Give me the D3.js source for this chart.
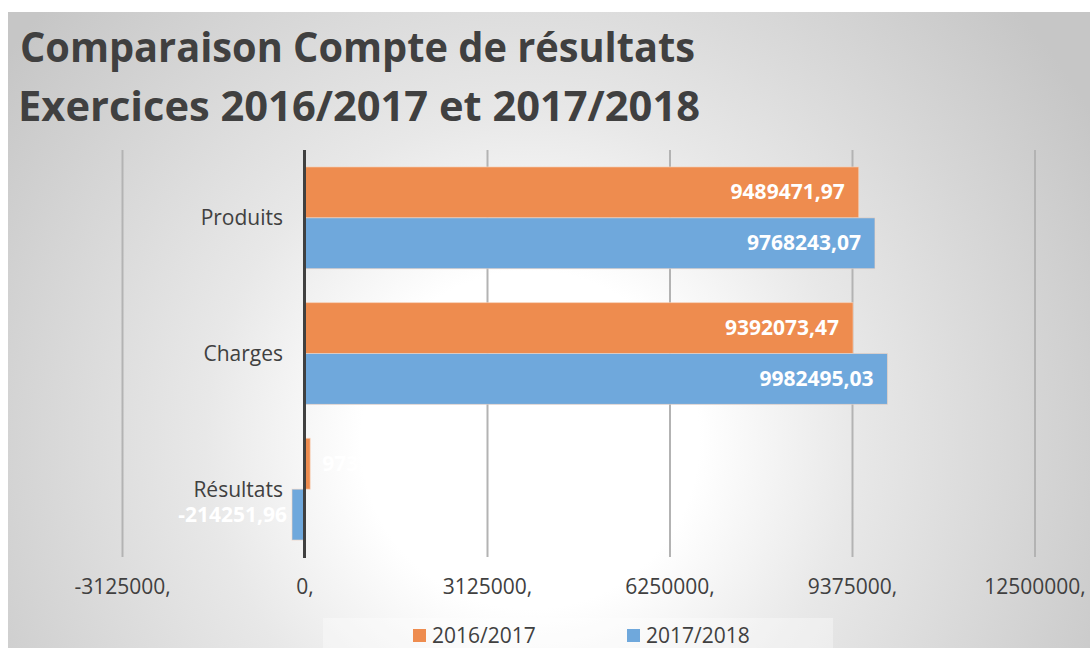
<!DOCTYPE html>
<html><head><meta charset="utf-8">
<script src="https://cdn.jsdelivr.net/npm/d3@7"></script>
<style>
body{margin:0;background:#fff;}
svg{display:block;font-family:"Open Sans",sans-serif;}
</style></head>
<body>
<svg id="c" width="1090" height="648"></svg>
<script>
const categories = ["Produits", "Charges", "Résultats"];
const seriesNames = ["2016/2017", "2017/2018"];
const values2016 = [9489471.97, 9392073.47, 97398.50];
const values2017 = [9768243.07, 9982495.03, -214251.96];
const tickValues = [-3125000, 0, 3125000, 6250000, 9375000, 12500000];
const titleLines = ["Comparaison Compte de résultats", "Exercices 2016/2017 et 2017/2018"];
const colors = ["#ee8c4f", "#6fa8dc"];

const svg = d3.select("#c");
const W = 1090, H = 648;

// background gradient
const defs = svg.append("defs");
const rg = defs.append("radialGradient").attr("id","bg")
  .attr("gradientUnits","userSpaceOnUse").attr("cx",530).attr("cy",440).attr("r",650);
rg.append("stop").attr("offset","0%").attr("stop-color","#ffffff");
rg.append("stop").attr("offset","26%").attr("stop-color","#ffffff");
rg.append("stop").attr("offset","50%").attr("stop-color","#e8e8e8");
rg.append("stop").attr("offset","100%").attr("stop-color","#c6c6c6");
svg.append("rect").attr("x",8).attr("y",12).attr("width",W-8).attr("height",H-12).attr("fill","url(#bg)");

// title
const tg = svg.append("g").attr("fill","#404040").attr("font-weight","bold").attr("font-size",41);
tg.append("text").attr("x",20).attr("y",62).attr("textLength",675).attr("lengthAdjust","spacingAndGlyphs").text(titleLines[0]);
tg.append("text").attr("x",18).attr("y",121).attr("textLength",682).attr("lengthAdjust","spacingAndGlyphs").text(titleLines[1]);

// scales
const x = d3.scaleLinear().domain([-3125000, 12500000]).range([122, 1034.5]);
const y0 = d3.scaleBand().domain(categories).range([150, 557]).paddingInner(0.25).paddingOuter(0.125);
const y1 = d3.scaleBand().domain(seriesNames).range([0, y0.bandwidth()]);

// gridlines
const grid = svg.append("g").attr("transform","translate(0,150)")
  .call(d3.axisBottom(x).tickValues(tickValues).tickSize(407).tickFormat(""));
grid.select(".domain").remove();
grid.selectAll("line").attr("stroke","#b3b3b3").attr("stroke-width",2);

// tick labels
const ax = svg.append("g").attr("transform","translate(0,557)")
  .call(d3.axisBottom(x).tickValues(tickValues).tickSize(0).tickPadding(22).tickFormat(d => d + ","));
ax.select(".domain").remove();
ax.selectAll("text").attr("font-size",21).attr("fill","#404040").attr("font-family","'Open Sans',sans-serif");

// bars
const data = categories.map((c,i)=>({cat:c, vals:[{s:seriesNames[0], v:values2016[i]},{s:seriesNames[1], v:values2017[i]}]}));
const fmt = v => v.toFixed(2).replace(".", ",").replace(/,50$/, ",5");
const cg = svg.append("g").selectAll("g").data(data).join("g")
  .attr("transform", d => `translate(0,${y0(d.cat)})`);
cg.selectAll("rect").data(d=>d.vals).join("rect")
  .attr("x", d => x(Math.min(0,d.v)))
  .attr("y", d => y1(d.s))
  .attr("width", d => Math.abs(x(d.v)-x(0)))
  .attr("height", y1.bandwidth())
  .attr("fill", (d,i)=>colors[i])
  .attr("stroke", "#f6d6c0").attr("stroke-opacity",0.6).attr("stroke-width",1);

// data labels
cg.selectAll("text.val").data(d=>d.vals).join("text").attr("class","val")
  .attr("x", d => d.v > 1000000 ? x(d.v) - 14 : (d.v >= 0 ? x(d.v) + 12 : x(d.v) - 5))
  .attr("y", d => y1(d.s) + y1.bandwidth()/2 + 7)
  .attr("text-anchor", d => d.v > 1000000 ? "end" : (d.v >= 0 ? "start" : "end"))
  .attr("fill","#ffffff").attr("font-weight","bold").attr("font-size",21)
  .text(d => fmt(d.v));

// zero axis
svg.append("line").attr("x1",x(0)).attr("x2",x(0)).attr("y1",150).attr("y2",558)
  .attr("stroke","#404040").attr("stroke-width",3);

// category labels
svg.append("g").selectAll("text").data(categories).join("text")
  .attr("x", 283).attr("y", d => y0(d) + y0.bandwidth()/2 + 7 + (d==="Résultats"?1:0))
  .attr("text-anchor","end").attr("fill","#404040").attr("font-size",21).text(d=>d);

// legend
svg.append("rect").attr("x",323).attr("y",618).attr("width",510).attr("height",30).attr("fill","#ffffff").attr("opacity",0.35);
const lg = svg.append("g").selectAll("g").data(seriesNames).join("g")
  .attr("transform",(d,i)=>`translate(${[413,627][i]},626)`);
lg.append("rect").attr("width",13).attr("height",13).attr("y",3).attr("fill",(d,i)=>colors[i]);
lg.append("text").attr("x",19).attr("y",17).attr("font-size",21).attr("fill","#404040").text(d=>d);
</script>
</body></html>
